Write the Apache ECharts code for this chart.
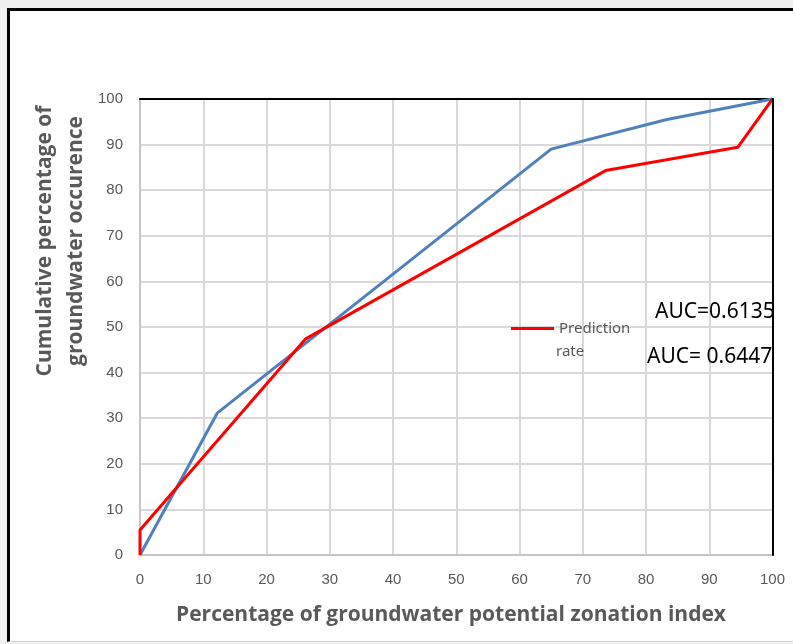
<!DOCTYPE html>
<html>
<head>
<meta charset="utf-8">
<script src="https://cdn.jsdelivr.net/npm/echarts@6/dist/echarts.min.js"></script>
<style>
html,body{margin:0;padding:0;background:#f0f0f0;width:793px;height:644px;overflow:hidden;}
#frame{position:absolute;left:7px;top:8px;width:820px;height:630px;background:#fff;border-left:3px solid #000;border-top:3px solid #000;border-bottom:1px solid #d0d0d0;}
#chart{position:absolute;left:0;top:0;width:793px;height:644px;}
</style>
</head>
<body>
<div id="frame"></div>
<div id="chart"></div>
<script>
const xTicks = [0,10,20,30,40,50,60,70,80,90,100];
const yTicks = [0,10,20,30,40,50,60,70,80,90,100];
const successX = [0, 12.2, 65.0, 83.3, 100];
const successY = [0, 31.1, 89.0, 95.5, 100];
const predictionX = [0, 0, 26.2, 73.6, 94.5, 100];
const predictionY = [0, 5.5, 47.4, 84.3, 89.4, 100];
const aucLabels = ['AUC=0.6135', 'AUC= 0.6447'];
const legendLines = ['Prediction', 'rate'];
const xTitle = 'Percentage of groundwater potential zonation index';
const yTitle = ['Cumulative percentage of', 'groundwater occurence'];

const chart = echarts.init(document.getElementById('chart'), null, {renderer:'canvas'});
const tickFont = {color:'#595959', fontSize:15, fontFamily:'Liberation Sans Narrow, Liberation Sans, sans-serif'};
const titleFont = 'Liberation Sans Narrow, Open Sans, sans-serif';
chart.setOption({
  backgroundColor:'transparent',
  animation:false,
  grid:{left:140, right:20.5, top:99, bottom:89},
  legend:{
    data:['Prediction rate'],
    left:506, top:316,
    icon:'rect', itemWidth:43, itemHeight:3,
    formatter:function(){return legendLines[0];},
    textStyle:{color:'#595959', fontSize:15, fontFamily:'Noto Sans, sans-serif'}
  },
  xAxis:[{
    type:'value', min:0, max:100, interval:10,
    axisLine:{show:true, onZero:false, lineStyle:{color:'#bfbfbf', width:1.5}},
    axisTick:{show:false},
    axisLabel:{margin:17, formatter:function(v){return xTicks.indexOf(v)>=0? String(v):'';}, ...tickFont},
    splitLine:{show:true, lineStyle:{color:'#d9d9d9', width:2}}
  },{
    type:'value', min:0, max:100, position:'top',
    axisLine:{show:true, onZero:false, lineStyle:{color:'#000', width:2}},
    axisTick:{show:false}, axisLabel:{show:false}, splitLine:{show:false}
  }],
  yAxis:[{
    type:'value', min:0, max:100, interval:10,
    axisLine:{show:true, onZero:false, lineStyle:{color:'#bfbfbf', width:1.5}},
    axisTick:{show:false},
    axisLabel:{margin:17, formatter:function(v){return yTicks.indexOf(v)>=0? String(v):'';}, ...tickFont},
    splitLine:{show:true, lineStyle:{color:'#d9d9d9', width:2}}
  },{
    type:'value', min:0, max:100, position:'right', z:200,
    axisLine:{show:true, onZero:false, lineStyle:{color:'#000', width:2}},
    axisTick:{show:false}, axisLabel:{show:false}, splitLine:{show:false}
  }],
  graphic:[
    {type:'text', z:100, left:556, top:344, style:{text:legendLines[1], fill:'#595959', font:'15px "Noto Sans", sans-serif'}},
    {type:'text', z:100, left:655, top:302, style:{text:aucLabels[0], fill:'#000', font:'21px "Noto Sans", sans-serif'}},
    {type:'text', z:100, left:647, top:347, style:{text:aucLabels[1], fill:'#000', font:'21px "Noto Sans", sans-serif'}},
    {type:'text', z:100, x:451, y:615, style:{text:xTitle, fill:'#595959', font:'bold 21px ' + titleFont, align:'center', verticalAlign:'middle'}},
    {type:'text', z:100, x:45, y:241, rotation:Math.PI/2, style:{text:yTitle[0], fill:'#595959', font:'bold 21px ' + titleFont, align:'center', verticalAlign:'middle'}},
    {type:'text', z:100, x:76, y:241, rotation:Math.PI/2, style:{text:yTitle[1], fill:'#595959', font:'bold 21px ' + titleFont, align:'center', verticalAlign:'middle'}}
  ],
  series:[
    {name:'Success rate', type:'line', showSymbol:false, clip:false,
     lineStyle:{color:'#4f81bd', width:3}, itemStyle:{color:'#4f81bd'},
     data:successX.map(function(x,i){return [x, successY[i]];})},
    {name:'Prediction rate', type:'line', showSymbol:false, clip:false,
     lineStyle:{color:'#ff0000', width:3}, itemStyle:{color:'#ff0000'},
     data:predictionX.map(function(x,i){return [x, predictionY[i]];})}
  ]
});
</script>
</body>
</html>
